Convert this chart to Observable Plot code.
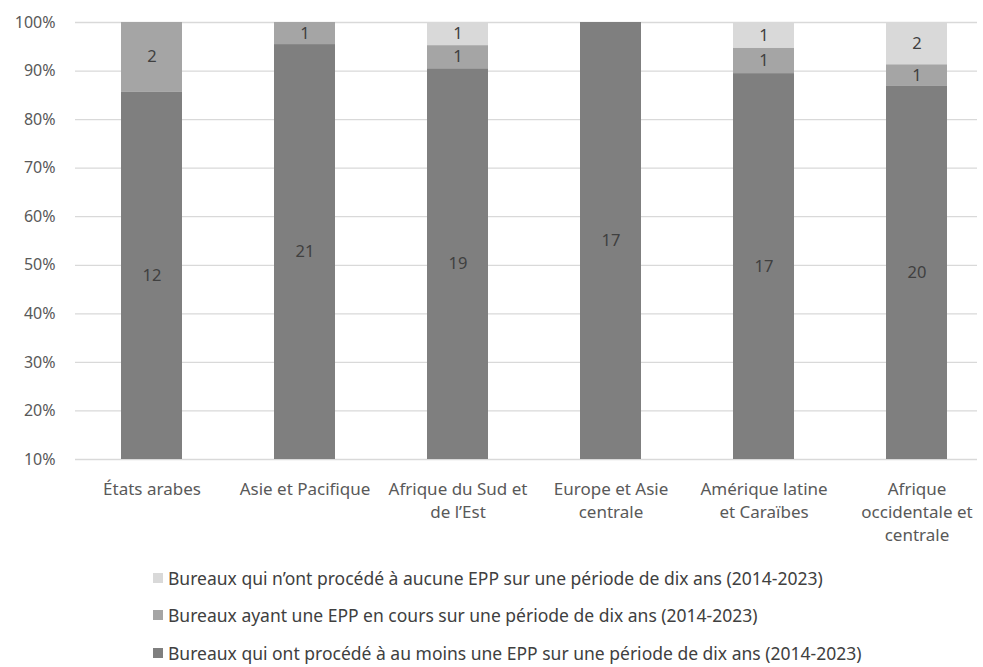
<!DOCTYPE html>
<html><head><meta charset="utf-8">
<script src="https://cdn.jsdelivr.net/npm/d3@7"></script>
<script src="https://cdn.jsdelivr.net/npm/@observablehq/plot@0.6"></script>
<style>
body{margin:0;background:#fff;font-family:"Noto Sans",sans-serif;}
#legend{margin-left:153px;margin-top:9px;}
.item{display:flex;align-items:center;height:37.5px;font-size:17.5px;color:#404040;white-space:nowrap}
.sw{width:10px;height:10px;margin-right:5px;flex:none}
</style></head><body><div id="chart"></div><div id="legend"></div>
<script>
const regions = ["États arabes","Asie et Pacifique","Afrique du Sud et de l’Est","Europe et Asie centrale","Amérique latine et Caraïbes","Afrique occidentale et centrale"];
const regionLabels = ["États arabes","Asie et Pacifique","Afrique du Sud et\nde l’Est","Europe et Asie\ncentrale","Amérique latine\net Caraïbes","Afrique\noccidentale et\ncentrale"];
const doneValues = [12,21,19,17,17,20];
const ongoingValues = [2,1,1,0,1,1];
const noneValues = [0,0,1,0,1,2];
const seriesNames = [
  "Bureaux qui ont procédé à au moins une EPP sur une période de dix ans (2014-2023)",
  "Bureaux ayant une EPP en cours sur une période de dix ans (2014-2023)",
  "Bureaux qui n’ont procédé à aucune EPP sur une période de dix ans (2014-2023)"
];
const seriesColors = ["#7f7f7f","#a5a5a5","#d9d9d9"];
const yTicks = [0.1,0.2,0.3,0.4,0.5,0.6,0.7,0.8,0.9,1.0];
const yMin = 0.1;

const seriesValues = [doneValues, ongoingValues, noneValues];
const rows = [];
regions.forEach((r, i) => {
  const total = seriesValues.reduce((s, v) => s + v[i], 0);
  let cum = 0;
  seriesValues.forEach((vals, k) => {
    const v = vals[i];
    const y1 = cum / total, y2 = (cum + v) / total;
    cum += v;
    if (v > 0) rows.push({region: r, series: seriesNames[k], value: v, y1: Math.max(y1, yMin), y2, mid: (Math.max(y1, yMin) + y2) / 2});
  });
});
const labelOf = new Map(regions.map((r, i) => [r, regionLabels[i]]));

const chart = Plot.plot({
  width: 983, height: 550,
  marginLeft: 75, marginRight: 6, marginTop: 22, marginBottom: 91,
  style: {fontFamily: "'Noto Sans', sans-serif", fontSize: "16px", color: "#595959", background: "#fff"},
  x: {domain: regions, range: [75, 993], paddingInner: 0.6, paddingOuter: 0.3, label: null},
  y: {domain: [yMin, 1], label: null},
  color: {domain: seriesNames, range: seriesColors},
  marks: [
    Plot.ruleY(yTicks, {stroke: "#d9d9d9", strokeWidth: 1.3}),
    Plot.barY(rows, {x: "region", y1: "y1", y2: "y2", fill: "series"}),
    Plot.text(rows, {x: "region", y: "mid", text: d => String(d.value), fill: "#404040", fontSize: 16.5}),
    Plot.axisY(yTicks, {tickSize: 0, tickPadding: 20, tickFormat: d3.format(".0%"), fill: "#595959", fontSize: 16}),
    Plot.axisX({tickSize: 0, tickPadding: 19, tickFormat: d => labelOf.get(d), lineHeight: 1.35, fill: "#595959", fontSize: 17})
  ]
});
document.getElementById("chart").appendChild(chart);

const legend = document.getElementById("legend");
[2, 1, 0].forEach(k => {
  const it = document.createElement("div");
  it.className = "item";
  const sw = document.createElement("span");
  sw.className = "sw";
  sw.style.background = seriesColors[k];
  const tx = document.createElement("span");
  tx.textContent = seriesNames[k];
  it.appendChild(sw); it.appendChild(tx);
  legend.appendChild(it);
});
</script></body></html>
